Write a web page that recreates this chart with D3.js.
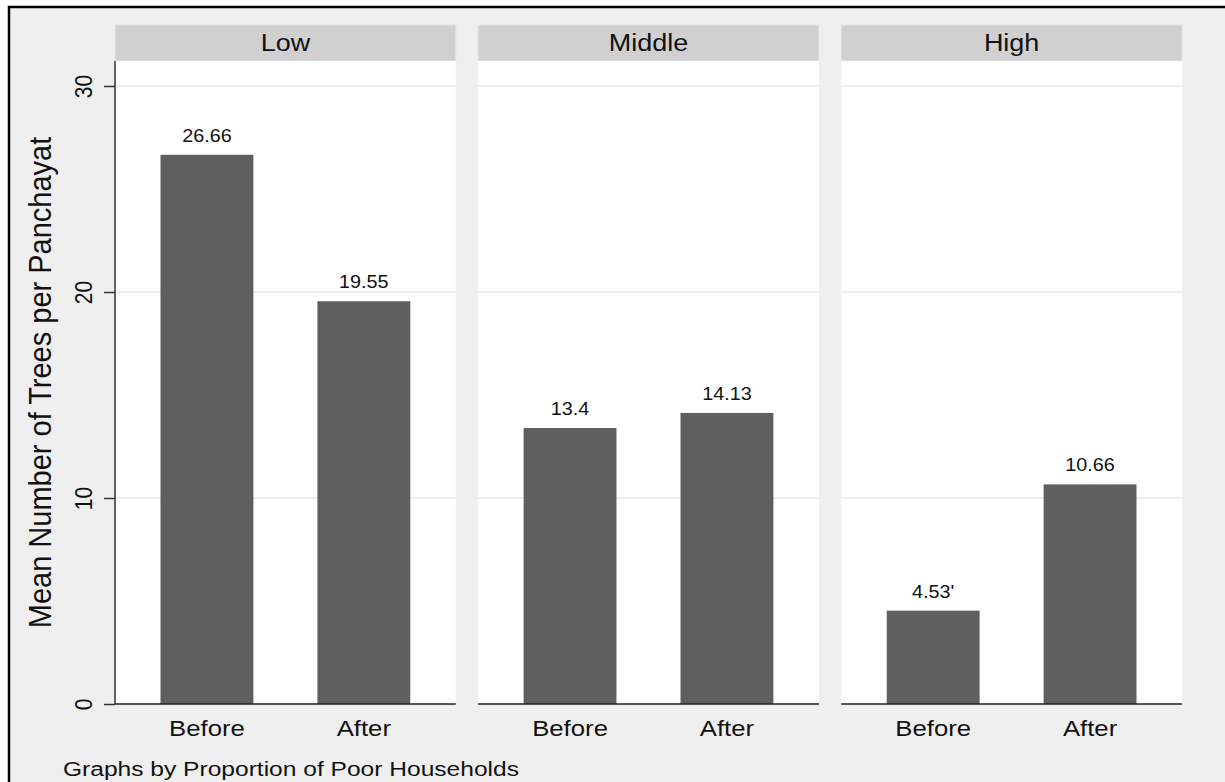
<!DOCTYPE html>
<html><head><meta charset="utf-8">
<script src="https://cdn.jsdelivr.net/npm/d3@7/dist/d3.min.js"></script>
<style>html,body{margin:0;padding:0;background:#fff;}svg{display:block;font-family:Arial,"Liberation Sans",sans-serif;}</style>
</head><body>
<script>
const groups = ["Low", "Middle", "High"];
const periods = ["Before", "After"];
const beforeValues = [26.66, 13.4, 4.531];
const afterValues = [19.55, 14.13, 10.66];
const beforeLabels = ["26.66", "13.4", "4.53'"];
const afterLabels = ["19.55", "14.13", "10.66"];
const yTicks = [0, 10, 20, 30];
const yTitle = "Mean Number of Trees per Panchayat";
const note = "Graphs by Proportion of Poor Households";

const W = 1225, H = 782, SX = 1.1;
const svg = d3.select("body").append("svg").attr("width", W).attr("height", H);

svg.append("rect").attr("x", 9).attr("y", 7).attr("width", W + 20).attr("height", H + 20)
  .attr("fill", "#efefef").attr("stroke", "#000").attr("stroke-width", 2.5);

const plotTop = 61, plotBottom = 704;
const y = d3.scaleLinear().domain([0, 30]).range([plotBottom, 86]);
const panelX = d3.scaleBand().domain(groups).range([115, 1182]).paddingInner(0.0615).paddingOuter(0);

function stretchText(sel, x, yy, rot, sx) {
  return sel.attr("transform", `translate(${x},${yy}) scale(${sx || SX},1)` + (rot ? ` rotate(${rot})` : ""));
}

groups.forEach((g, i) => {
  const x0 = panelX(g), pw = panelX.bandwidth();
  const gp = svg.append("g");
  gp.append("rect").attr("x", x0).attr("y", 25).attr("width", pw).attr("height", 36)
    .attr("fill", "#d0d0d0").attr("stroke", "#dbe5ea").attr("stroke-width", 1);
  stretchText(gp.append("text"), x0 + pw / 2, 51).attr("text-anchor", "middle")
    .attr("font-size", 24.5).attr("fill", "#111").text(g);
  gp.append("rect").attr("x", x0).attr("y", plotTop).attr("width", pw).attr("height", plotBottom - plotTop)
    .attr("fill", "#fff");
  yTicks.filter(t => t > 0).forEach(t => {
    gp.append("line").attr("x1", x0).attr("x2", x0 + pw).attr("y1", y(t)).attr("y2", y(t))
      .attr("stroke", "#e8e8e8").attr("stroke-width", 1.5);
  });
  const xb = d3.scaleBand().domain(periods).range([x0, x0 + pw]).paddingInner(0.408).paddingOuter(0.29);
  const vals = [beforeValues[i], afterValues[i]];
  const labs = [beforeLabels[i], afterLabels[i]];
  periods.forEach((p, j) => {
    gp.append("rect").attr("x", xb(p)).attr("y", y(vals[j])).attr("width", xb.bandwidth())
      .attr("height", y(0) - y(vals[j])).attr("fill", "#5f5f5f");
    stretchText(gp.append("text"), xb(p) + xb.bandwidth() / 2, y(vals[j]) - 13).attr("text-anchor", "middle")
      .attr("font-size", 18).attr("fill", "#111").text(labs[j]);
    stretchText(gp.append("text"), xb(p) + xb.bandwidth() / 2, 736, null, 1.17).attr("text-anchor", "middle")
      .attr("font-size", 22).attr("fill", "#111").text(p);
  });
  gp.append("line").attr("x1", x0).attr("x2", x0 + pw).attr("y1", plotBottom).attr("y2", plotBottom)
    .attr("stroke", "#222").attr("stroke-width", 1.5);
});

const yAxisG = svg.append("g").attr("transform", `translate(${panelX(groups[0])},0)`);
const yAxis = d3.axisLeft(y).tickValues(yTicks).tickSize(11).tickPadding(0).tickFormat(d3.format("d"));
yAxisG.call(yAxis);
yAxisG.select(".domain").attr("d", `M0,${plotTop}V${plotBottom}`).attr("stroke", "#333").attr("stroke-width", 1.5);
yAxisG.selectAll(".tick line").attr("stroke", "#333").attr("stroke-width", 1.5);
yAxisG.selectAll(".tick text").each(function(d) {
  const t = d3.select(this);
  t.attr("x", null).attr("dy", null).attr("text-anchor", "middle").attr("font-size", 21)
   .attr("fill", "#111").attr("font-family", "Arial, 'Liberation Sans', sans-serif")
   .attr("transform", `translate(-23,0) scale(${SX},1) rotate(-90)`);
});

stretchText(svg.append("text"), 51, (plotTop + plotBottom) / 2, -90).attr("text-anchor", "middle")
  .attr("font-size", 29).attr("fill", "#111").text(yTitle);

stretchText(svg.append("text"), 63, 776, null, 1.17).attr("font-size", 21).attr("fill", "#111").text(note);
</script>
</body></html>
